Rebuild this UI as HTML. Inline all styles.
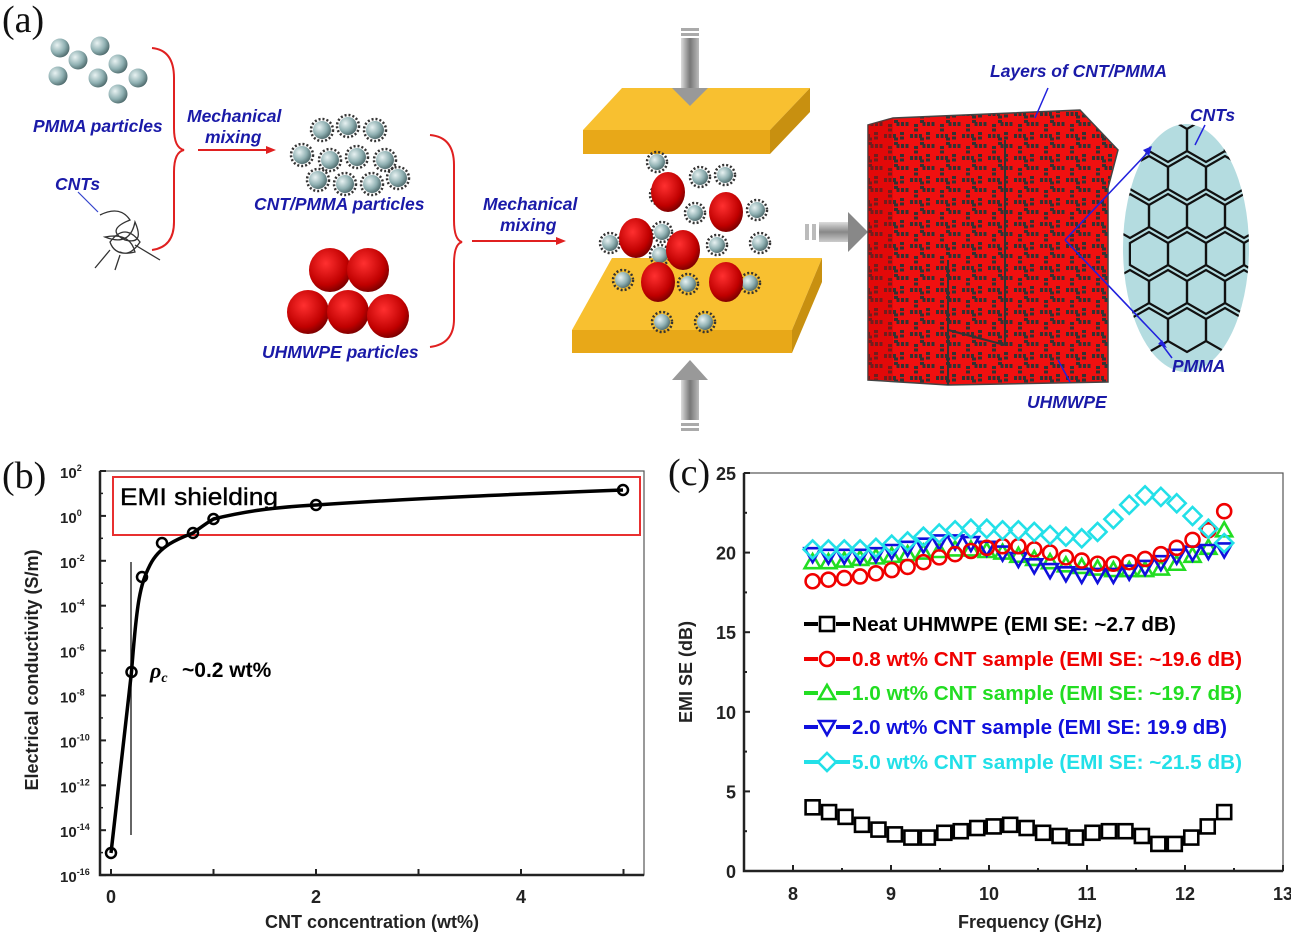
<!DOCTYPE html>
<html><head><meta charset="utf-8"><style>
html,body{margin:0;padding:0;background:#fff;width:1291px;height:950px;overflow:hidden}
svg{display:block}
.bl{font-family:"Liberation Sans",sans-serif;font-style:italic;font-weight:bold;fill:#1a1aa8;font-size:17.5px}
.ax{font-family:"Liberation Sans",sans-serif;font-weight:bold;fill:#222}
.lg{font-family:"Liberation Sans","Noto Sans CJK KR",sans-serif;font-weight:bold;font-size:20px}
.pl{font-family:"Liberation Serif",serif;font-size:38px;fill:#111}
</style></head><body>
<svg id="s" width="1291" height="950" viewBox="0 0 1291 950" xmlns="http://www.w3.org/2000/svg">
<defs>
<radialGradient id="gg" cx="35%" cy="35%" r="70%"><stop offset="0" stop-color="#e8f2f2"/><stop offset="0.6" stop-color="#8fb0b2"/><stop offset="1" stop-color="#4e6a6c"/></radialGradient>
<radialGradient id="rg" cx="40%" cy="35%" r="70%"><stop offset="0" stop-color="#ff3030"/><stop offset="0.7" stop-color="#c00000"/><stop offset="1" stop-color="#700000"/></radialGradient>
<linearGradient id="ga" x1="0" x2="1"><stop offset="0" stop-color="#ddd"/><stop offset="0.5" stop-color="#777"/><stop offset="1" stop-color="#bbb"/></linearGradient>
<linearGradient id="gv" x1="0" x2="0" y1="0" y2="1"><stop offset="0" stop-color="#ddd"/><stop offset="0.5" stop-color="#888"/><stop offset="1" stop-color="#ccc"/></linearGradient>
<pattern id="cnt" width="26" height="22" patternUnits="userSpaceOnUse">
<rect width="26" height="22" fill="#f01010"/>
<path d="M0 4 H12 V14 H26 M18 0 V8 M6 14 V22" stroke="#333" stroke-width="4" fill="none" stroke-dasharray="3 1.5"/>
</pattern>
</defs>
<text class="pl" x="2" y="32">(a)</text>
<g id="pmma"></g>
<text class="bl" x="33" y="132">PMMA particles</text>
<text class="bl" x="55" y="190">CNTs</text>
<path d="M78 192 L98 212" stroke="#3344cc" stroke-width="1.2"/>
<path d="M100 215 q20 -10 30 5 q-25 10 -5 20 q20 5 10 -18 q-5 25 -30 15 q25 -5 30 15 q-20 5 -25 -10 q15 -20 30 0 q-10 15 -20 10 M110 250 l-15 18 M135 245 l25 15 M120 255 l-5 15" stroke="#333" stroke-width="1.3" fill="none"/>
<path d="M152 48 q22 2 22 30 v50 q0 20 10 22 q-10 2 -10 22 v50 q0 25 -22 28" stroke="#e02020" stroke-width="2" fill="none"/>
<text class="bl" x="187" y="122">Mechanical</text>
<text class="bl" x="205" y="143">mixing</text>
<path d="M198 150 H268" stroke="#e02020" stroke-width="2"/><path d="M276 150 l-10 -4 v8z" fill="#e02020"/>
<g id="cp"></g>
<text class="bl" x="254" y="210">CNT/PMMA particles</text>
<g id="uh"></g>
<text class="bl" x="262" y="358">UHMWPE particles</text>
<path d="M430 135 q24 2 24 30 v55 q0 20 8 22 q-8 2 -8 22 v55 q0 25 -24 28" stroke="#e02020" stroke-width="2" fill="none"/>
<text class="bl" x="483" y="210">Mechanical</text>
<text class="bl" x="500" y="231">mixing</text>
<path d="M472 241 H558" stroke="#e02020" stroke-width="2"/><path d="M566 241 l-10 -4 v8z" fill="#e02020"/>
<polygon points="622,88 810,88 770,130 583,130" fill="#f8c030"/>
<polygon points="583,130 770,130 770,154 583,154" fill="#e8a818"/>
<polygon points="770,130 810,88 810,112 770,154" fill="#c89010"/>
<polygon points="612,258 822,258 792,330 572,330" fill="#f8c030"/>
<polygon points="572,330 792,330 792,353 572,353" fill="#e8a818"/>
<polygon points="792,330 822,258 822,282 792,353" fill="#c89010"/>
<g id="mid"></g>
<rect x="681" y="38" width="18" height="52" fill="url(#ga)"/><polygon points="672,88 708,88 690,106" fill="#999"/>
<rect x="681" y="28" width="18" height="3" fill="#aaa"/><rect x="681" y="33" width="18" height="3" fill="#aaa"/>
<rect x="681" y="378" width="18" height="42" fill="url(#ga)"/><polygon points="672,380 708,380 690,360" fill="#999"/>
<rect x="681" y="423" width="18" height="3" fill="#aaa"/><rect x="681" y="428" width="18" height="3" fill="#aaa"/>
<rect x="805" y="224" width="4" height="16" fill="#bbb"/><rect x="812" y="224" width="4" height="16" fill="#bbb"/>
<rect x="819" y="222" width="30" height="20" fill="url(#gv)"/><polygon points="848,212 848,252 868,232" fill="#888"/>
<polygon points="893,118 1080,110 1118,150 1108,188 1108,382 948,385 868,380 868,125" fill="url(#cnt)" stroke="#444" stroke-width="1.5"/>
<polygon points="868,125 893,118 893,380 868,380" fill="#c00" opacity="0.4"/>
<path d="M1005 140 V345 M948 260 V385 M1005 345 L948 330" stroke="#333" stroke-width="2" fill="none"/>
<ellipse cx="1186" cy="248" rx="63" ry="124" fill="#b4dce0"/>
<g stroke="#111" stroke-width="2.2" fill="none" id="hex"></g>
<path d="M1065 240 L1150 150 M1065 240 L1165 345" stroke="#2222dd" stroke-width="1.6"/>
<polygon points="1152,146 1143,150 1149,156" fill="#22d"/><polygon points="1167,348 1158,344 1162,340" fill="#22d"/>
<path d="M1048 88 L1035 118 M1205 125 L1195 145 M1058 360 L1070 382 M1172 358 L1160 342" stroke="#2222dd" stroke-width="1.5"/>
<text class="bl" x="990" y="77">Layers of CNT/PMMA</text>
<text class="bl" x="1190" y="121">CNTs</text>
<text class="bl" x="1172" y="372">PMMA</text>
<text class="bl" x="1027" y="408">UHMWPE</text>

<text class="pl" x="2" y="488">(b)</text>
<rect x="100" y="471" width="544" height="404" fill="none" stroke="#555" stroke-width="1.2"/>
<path d="M100 471 V875 H644" stroke="#222" stroke-width="2.5" fill="none"/>
<rect x="113" y="477" width="527" height="58" fill="none" stroke="#e83030" stroke-width="2"/>
<g id="bt"></g>
<text x="120" y="505" font-family="Liberation Sans,sans-serif" font-size="24" fill="#000" stroke="#000" stroke-width="0.4" textLength="158" lengthAdjust="spacingAndGlyphs">EMI shielding</text>
<text x="150" y="678" font-family="Liberation Serif,serif" font-style="italic" font-weight="bold" font-size="22" fill="#000">ρ<tspan font-size="14" dy="4">c</tspan></text>
<text x="182" y="677" font-family="Liberation Sans,sans-serif" font-weight="bold" font-size="21" fill="#000">~0.2 wt%</text>
<path d="M131 562 V835" stroke="#333" stroke-width="1.5"/>
<path id="bc" d="" stroke="#000" stroke-width="3.5" fill="none"/>
<g id="bp"></g>
<text class="ax" font-size="18" transform="translate(38,670) rotate(-90)" text-anchor="middle">Electrical conductivity (S/m)</text>
<text class="ax" font-size="18" x="372" y="928" text-anchor="middle">CNT concentration (wt%)</text>

<text class="pl" x="668" y="485">(c)</text>
<rect x="744" y="473" width="539" height="398" fill="none" stroke="#555" stroke-width="1.2"/>
<path d="M744 473 V871 H1283" stroke="#222" stroke-width="2.5" fill="none"/>
<g id="ct"></g>
<text class="ax" font-size="18" transform="translate(692,672) rotate(-90)" text-anchor="middle">EMI SE (dB)</text>
<text class="ax" font-size="18" x="1030" y="928" text-anchor="middle">Frequency (GHz)</text>
<g id="cd"></g>
<g id="lg"></g>
</svg>
<script>
var NS="http://www.w3.org/2000/svg";
function el(p,t,a,txt){var e=document.createElementNS(NS,t);for(var k in a)e.setAttribute(k,a[k]);if(txt!=null)e.textContent=txt;document.getElementById(p).appendChild(e);return e;}
[[60,48],[100,46],[78,60],[118,64],[58,76],[98,78],[138,78],[118,94]].forEach(function(p){el("pmma","circle",{cx:p[0],cy:p[1],r:9.5,fill:"url(#gg)"});});
function cntp(g,x,y,r){el(g,"circle",{cx:x,cy:y,r:r+2,fill:"none",stroke:"#333","stroke-width":2.5,"stroke-dasharray":"2 2"});el(g,"circle",{cx:x,cy:y,r:r,fill:"url(#gg)"});}
[[322,130],[348,126],[375,130],[302,155],[330,160],[357,157],[385,160],[318,180],[345,184],[372,184],[398,178]].forEach(function(p){cntp("cp",p[0],p[1],9);});
[[330,270],[368,270],[308,312],[348,312],[388,316]].forEach(function(p){el("uh","ellipse",{cx:p[0],cy:p[1],rx:21,ry:22,fill:"url(#rg)"});});
[[657,162],[660,195],[700,177],[725,175],[695,213],[757,210],[610,243],[662,232],[660,255],[717,245],[760,243],[623,280],[688,284],[750,283],[662,322],[705,322]].forEach(function(p){cntp("mid",p[0],p[1],8);});
[[668,192],[726,212],[636,238],[683,250],[658,282],[726,282]].forEach(function(p){el("mid","ellipse",{cx:p[0],cy:p[1],rx:17,ry:20,fill:"url(#rg)"});});
var h="";for(var r=0;r<6;r++)for(var c=0;c<4;c++){var cx=1130+c*38+(r%2)*19,cy=140+r*38;var d="M";for(var i=0;i<6;i++){var a=Math.PI/3*i+Math.PI/6;d+=(cx+22*Math.cos(a)).toFixed(1)+" "+(cy+22*Math.sin(a)).toFixed(1)+(i<5?" L":" Z");}h+='<path d="'+d+'"/>';}
var hx=document.getElementById("hex");hx.innerHTML=h;
var cl=el("s","clipPath",{id:"ec"});var ce=document.createElementNS(NS,"ellipse");ce.setAttribute("cx",1186);ce.setAttribute("cy",248);ce.setAttribute("rx",63);ce.setAttribute("ry",124);cl.appendChild(ce);hx.setAttribute("clip-path","url(#ec)");
for(var k=0;k<=9;k++){var e=2-2*k,y=471+k*44.9;el("bt","line",{x1:100,x2:106,y1:y,y2:y,stroke:"#222","stroke-width":2});if(k<9)el("bt","line",{x1:100,x2:103,y1:y+22.4,y2:y+22.4,stroke:"#222","stroke-width":1.5});
var t=el("bt","text",{x:60,y:y+7,"font-family":"Liberation Sans,sans-serif","font-weight":"bold","font-size":15,fill:"#222"},"10");var ts=document.createElementNS(NS,"tspan");ts.setAttribute("dy","-7");ts.setAttribute("font-size","9");ts.textContent=e;t.appendChild(ts);}
[0,1,2,3,4,5].forEach(function(v){var x=111+v*102.5;el("bt","line",{x1:x,x2:x,y1:875,y2:869,stroke:"#222","stroke-width":2});if(v%2==0)el("bt","text",{x:x,y:903,"text-anchor":"middle","font-family":"Liberation Sans,sans-serif","font-weight":"bold","font-size":18,fill:"#222"},v);});
var pts=[[111,853],[131.5,672],[142,577],[162,543],[193,533],[213.5,519],[316,505],[623,490]];
document.getElementById("bc").setAttribute("d","M111 853 L131.5 672 C137 600 140 585 150 565 C160 545 180 538 193 533 C200 528 208 522 213.5 519 C250 510 280 507 316 505 C420 498 520 494 623 490");
pts.forEach(function(p){el("bp","circle",{cx:p[0],cy:p[1],r:5,fill:"none",stroke:"#000","stroke-width":2.5});});
function X(f){return 793+(f-8)*98;}function Y(v){return 871-v*15.92;}
for(var v=0;v<=25;v+=2.5){var y=Y(v);el("ct","line",{x1:744,x2:v%5==0?750:747,y1:y,y2:y,stroke:"#222","stroke-width":2});if(v%5==0)el("ct","text",{x:736,y:y+7,"text-anchor":"end","font-family":"Liberation Sans,sans-serif","font-weight":"bold","font-size":18,fill:"#222"},v);}
for(var f=7.5;f<=13;f+=0.5){var x=X(f);el("ct","line",{x1:x,x2:x,y1:871,y2:f%1==0?865:868,stroke:"#222","stroke-width":2});if(f%1==0&&f>=8)el("ct","text",{x:x,y:900,"text-anchor":"middle","font-family":"Liberation Sans,sans-serif","font-weight":"bold","font-size":18,fill:"#222"},f);}
var D={
k:[4.0,3.7,3.4,2.9,2.6,2.3,2.1,2.1,2.4,2.5,2.7,2.8,2.9,2.7,2.4,2.2,2.1,2.4,2.5,2.5,2.2,1.7,1.7,2.1,2.8,3.7],
r:[18.2,18.3,18.4,18.5,18.7,18.9,19.1,19.4,19.7,19.9,20.1,20.3,20.4,20.4,20.2,20.0,19.7,19.5,19.3,19.3,19.4,19.6,19.9,20.3,20.8,21.4,22.6],
g:[19.4,19.4,19.5,19.6,19.7,19.8,19.9,20.0,20.1,20.2,20.2,20.1,20.0,19.8,19.6,19.4,19.2,19.1,19.0,18.9,18.9,18.9,19.0,19.3,19.8,20.3,21.4],
b:[19.9,19.8,19.8,19.8,19.9,20.1,20.3,20.5,20.7,20.7,20.6,20.3,20.0,19.6,19.2,18.9,18.7,18.6,18.6,18.6,18.8,19.1,19.4,19.8,20.0,20.1,20.2],
c:[20.2,20.2,20.2,20.2,20.3,20.5,20.7,21.0,21.2,21.4,21.5,21.5,21.4,21.4,21.3,21.1,21.0,20.9,21.3,22.1,23.0,23.6,23.5,23.1,22.3,21.5,20.6]};
var col={k:"#000",r:"#f00000",g:"#22dd22",b:"#1010dd",c:"#22e0e8"};
function mk(g,s,x,y,sz){var c=col[s],a={fill:"none",stroke:c,"stroke-width":2.6};
if(s=="k"){a.x=x-sz;a.y=y-sz;a.width=2*sz;a.height=2*sz;el(g,"rect",a);}
else if(s=="r"){a.cx=x;a.cy=y;a.r=sz;el(g,"circle",a);}
else if(s=="g"){a.points=(x)+","+(y-sz-1)+" "+(x+sz+1)+","+(y+sz-1)+" "+(x-sz-1)+","+(y+sz-1);el(g,"polygon",a);}
else if(s=="b"){a.points=(x)+","+(y+sz+1)+" "+(x+sz+1)+","+(y-sz+1)+" "+(x-sz-1)+","+(y-sz+1);el(g,"polygon",a);}
else {a.points=x+","+(y-sz-2)+" "+(x+sz+2)+","+y+" "+x+","+(y+sz+2)+" "+(x-sz-2)+","+y;el(g,"polygon",a);}}
["k","g","b","r","c"].forEach(function(s){var d=D[s],n=d.length;d.forEach(function(v,i){mk("cd",s,X(8.2+i*(4.2/(n-1))),Y(v),7);});});
var L=[["k","Neat UHMWPE (EMI SE: ~2.7 dB)",624,324],["r","0.8 wt% CNT sample (EMI SE: ~19.6 dB)",659,390],["g","1.0 wt% CNT sample (EMI SE: ~19.7 dB)",693,390],["b","2.0 wt% CNT sample (EMI SE: 19.9 dB)",727,375],["c","5.0 wt% CNT sample (EMI SE: ~21.5 dB)",762,390]];
L.forEach(function(l){el("lg","line",{x1:804,x2:850,y1:l[2],y2:l[2],stroke:col[l[0]],"stroke-width":4});var s=l[0];
el("lg","rect",{x:818,y:l[2]-9,width:18,height:18,fill:"#fff"});mk("lg",s,827,l[2],7);
el("lg","text",{x:852,y:l[2]+7,"class":"lg",fill:col[s],textLength:l[3],lengthAdjust:"spacingAndGlyphs"},l[1]);});
</script>
</body></html>
